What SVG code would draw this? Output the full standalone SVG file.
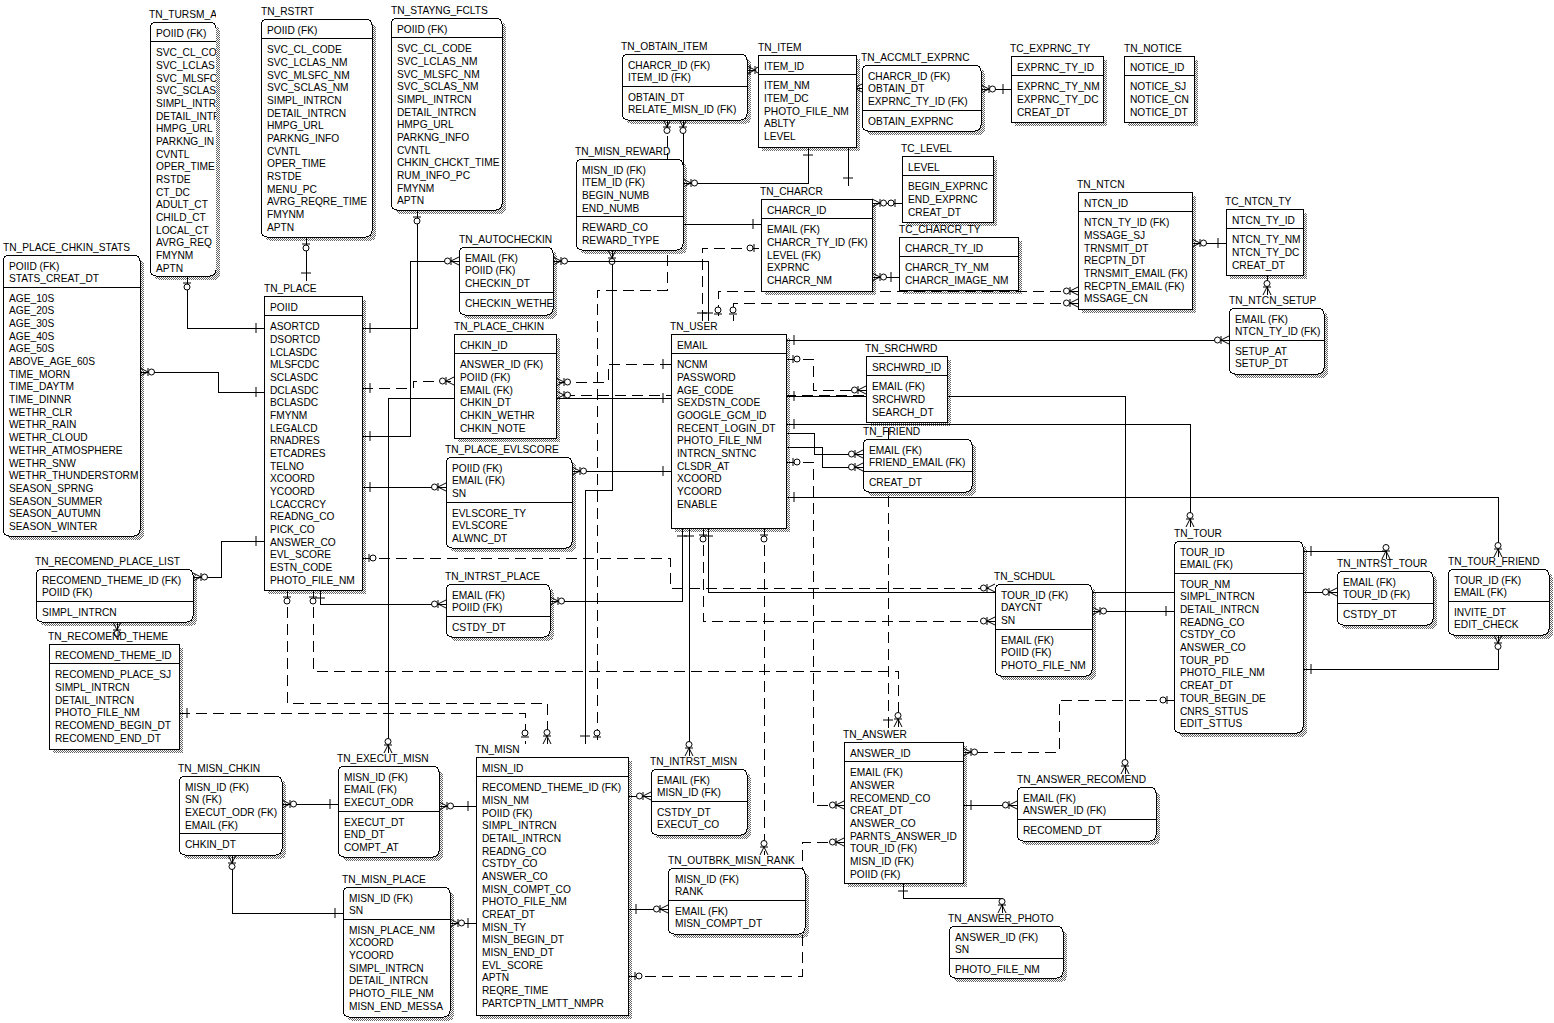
<svg xmlns="http://www.w3.org/2000/svg" width="1554" height="1023" viewBox="0 0 1554 1023">
<style>
.t{font-family:"Liberation Sans",Arial,sans-serif;font-size:10.2px;fill:#000}
.b{fill:#fff;stroke:#000;stroke-width:1;shape-rendering:crispEdges}
.dv{stroke:#000;stroke-width:1;fill:none;shape-rendering:crispEdges}
.sh{fill:url(#dots);shape-rendering:crispEdges}
.c{fill:none;stroke:#000;stroke-width:1;shape-rendering:crispEdges}
.cd{fill:none;stroke:#000;stroke-width:1;stroke-dasharray:11 6;shape-rendering:crispEdges}
</style>
<defs>
<pattern id="dots" width="2" height="2" patternUnits="userSpaceOnUse"><rect width="1" height="1" fill="#666"/><rect x="1" y="1" width="1" height="1" fill="#666"/></pattern>
<g id="mm"><path d="M0,-4L8,0L0,4M8,-4V4" fill="none" stroke="#000"/><circle cx="11.5" cy="0" r="3" fill="#fff" stroke="#000"/></g>
<g id="m1"><path d="M8,-5V5" fill="none" stroke="#000"/></g>
<g id="m01"><path d="M7,-4V4" fill="none" stroke="#000"/><circle cx="11" cy="0" r="3" fill="#fff" stroke="#000"/></g>
<clipPath id="clT"><rect x="140" y="0" width="76" height="290"/></clipPath>
</defs>
<rect width="1554" height="1023" fill="#fff"/>
<g id="shadows">
<rect class="sh" x="154" y="26" width="66" height="254" rx="6"/>
<rect class="sh" x="265" y="23" width="111" height="218" rx="6"/>
<rect class="sh" x="395" y="22" width="111" height="192" rx="6"/>
<rect class="sh" x="7" y="259" width="137" height="281" rx="6"/>
<rect class="sh" x="268" y="300" width="98" height="294"/>
<rect class="sh" x="626" y="58" width="125" height="66" rx="6"/>
<rect class="sh" x="762" y="59" width="98" height="92"/>
<rect class="sh" x="866" y="69" width="119" height="66" rx="6"/>
<rect class="sh" x="1015" y="60" width="92" height="66"/>
<rect class="sh" x="1128" y="60" width="70" height="66"/>
<rect class="sh" x="580" y="163" width="107" height="91" rx="6"/>
<rect class="sh" x="765" y="203" width="111" height="92"/>
<rect class="sh" x="906" y="160" width="91" height="66"/>
<rect class="sh" x="903" y="241" width="119" height="53"/>
<rect class="sh" x="1082" y="196" width="114" height="117"/>
<rect class="sh" x="1230" y="213" width="77" height="66"/>
<rect class="sh" x="1233" y="312" width="95" height="66" rx="6"/>
<rect class="sh" x="463" y="251" width="94" height="68" rx="6"/>
<rect class="sh" x="458" y="338" width="102" height="104"/>
<rect class="sh" x="675" y="338" width="115" height="194"/>
<rect class="sh" x="870" y="360" width="81" height="66"/>
<rect class="sh" x="867" y="443" width="109" height="53" rx="6"/>
<rect class="sh" x="450" y="461" width="126" height="91" rx="6"/>
<rect class="sh" x="450" y="588" width="104" height="53" rx="6"/>
<rect class="sh" x="40" y="573" width="157" height="53" rx="6"/>
<rect class="sh" x="53" y="648" width="130" height="105"/>
<rect class="sh" x="999" y="588" width="97" height="92" rx="6"/>
<rect class="sh" x="1178" y="545" width="129" height="192" rx="6"/>
<rect class="sh" x="1341" y="575" width="96" height="54" rx="6"/>
<rect class="sh" x="1452" y="573" width="101" height="66" rx="6"/>
<rect class="sh" x="183" y="780" width="103" height="79" rx="6"/>
<rect class="sh" x="342" y="770" width="101" height="91" rx="6"/>
<rect class="sh" x="347" y="891" width="107" height="130" rx="6"/>
<rect class="sh" x="480" y="761" width="152" height="258"/>
<rect class="sh" x="655" y="773" width="96" height="66" rx="6"/>
<rect class="sh" x="672" y="872" width="137" height="66" rx="6"/>
<rect class="sh" x="848" y="746" width="119" height="141"/>
<rect class="sh" x="1021" y="791" width="139" height="54" rx="6"/>
<rect class="sh" x="953" y="930" width="114" height="52" rx="6"/>
</g>
<g id="connectors">
<path class="c" d="M187,276V328H264"/><use href="#m01" transform="translate(187,276) rotate(90)"/><use href="#m1" transform="translate(264,328) rotate(180)"/>
<path class="c" d="M306,237V281"/><use href="#m01" transform="translate(306,237) rotate(90)"/><use href="#m1" transform="translate(306,281) rotate(-90)"/>
<path class="c" d="M417,210V328H362"/><use href="#m01" transform="translate(417,210) rotate(90)"/><use href="#m1" transform="translate(362,328)"/>
<path class="c" d="M140,372H218V392H264"/><use href="#mm" transform="translate(140,372)"/><use href="#m1" transform="translate(264,392) rotate(180)"/>
<path class="c" d="M193,577H221V541H264"/><use href="#mm" transform="translate(193,577)"/><use href="#m1" transform="translate(264,541) rotate(180)"/>
<path class="c" d="M117,622V631"/><use href="#mm" transform="translate(117,622) rotate(90)"/>
<path class="cd" d="M362,388H413V381H454"/><use href="#m1" transform="translate(362,388)"/><use href="#mm" transform="translate(454,381) rotate(180)"/>
<path class="c" d="M362,436H410V261H459"/><use href="#m1" transform="translate(362,436)"/><use href="#mm" transform="translate(459,261) rotate(180)"/>
<path class="c" d="M362,487H446"/><use href="#m1" transform="translate(362,487)"/><use href="#mm" transform="translate(446,487) rotate(180)"/>
<path class="c" d="M320,590V604H446"/><use href="#m1" transform="translate(320,590) rotate(90)"/><use href="#mm" transform="translate(446,604) rotate(180)"/>
<path class="cd" d="M362,558H670V588H995"/><use href="#m01" transform="translate(362,558)"/><use href="#mm" transform="translate(995,588) rotate(180)"/>
<path class="cd" d="M287,590V703H547V744"/><use href="#m01" transform="translate(287,590) rotate(90)"/><use href="#mm" transform="translate(547,744) rotate(-90)"/>
<path class="cd" d="M313,590V671H898V727"/><use href="#m01" transform="translate(313,590) rotate(90)"/><use href="#mm" transform="translate(898,727) rotate(-90)"/>
<path class="cd" d="M179,713H525V744"/><use href="#m1" transform="translate(179,713)"/><use href="#m01" transform="translate(525,744) rotate(-90)"/>
<path class="c" d="M612,250V490H585V744"/><use href="#mm" transform="translate(612,250) rotate(90)"/><use href="#m1" transform="translate(585,744) rotate(-90)"/>
<path class="cd" d="M667,119V290H597V744"/><use href="#mm" transform="translate(667,119) rotate(90)"/><use href="#m01" transform="translate(597,744) rotate(-90)"/>
<path class="c" d="M761,224H683V119"/><use href="#mm" transform="translate(683,119) rotate(90)"/><use href="#m1" transform="translate(761,224) rotate(180)"/>
<path class="c" d="M758,70H747"/><use href="#mm" transform="translate(747,70)"/><use href="#m1" transform="translate(758,70) rotate(180)"/>
<path class="c" d="M808,147V183H683"/><use href="#m1" transform="translate(808,147) rotate(90)"/><use href="#mm" transform="translate(683,183)"/>
<path class="c" d="M848,186V88H862"/><use href="#m1" transform="translate(848,186) rotate(-90)"/><use href="#mm" transform="translate(862,88) rotate(180)"/>
<path class="c" d="M981,89H1011"/><use href="#mm" transform="translate(981,89)"/><use href="#m1" transform="translate(1011,89) rotate(180)"/>
<path class="c" d="M872,203H902"/><use href="#mm" transform="translate(872,203)"/><use href="#m01" transform="translate(902,203) rotate(180)"/>
<path class="c" d="M872,277H899"/><use href="#mm" transform="translate(872,277)"/><use href="#m1" transform="translate(899,277) rotate(180)"/>
<path class="c" d="M1192,243H1226"/><use href="#mm" transform="translate(1192,243)"/><use href="#m1" transform="translate(1226,243) rotate(180)"/>
<path class="c" d="M1267,274V295"/><use href="#mm" transform="translate(1267,295) rotate(-90)"/>
<path class="c" d="M786,340H1229"/><use href="#m1" transform="translate(786,340)"/><use href="#mm" transform="translate(1229,340) rotate(180)"/>
<path class="cd" d="M1078,291H718V321"/><use href="#mm" transform="translate(1078,291) rotate(180)"/><use href="#m01" transform="translate(718,321) rotate(-90)"/>
<path class="cd" d="M1078,303H733V321"/><use href="#mm" transform="translate(1078,303) rotate(180)"/><use href="#m01" transform="translate(733,321) rotate(-90)"/>
<path class="cd" d="M702,321V248H761"/><use href="#m1" transform="translate(702,321) rotate(-90)"/><use href="#m01" transform="translate(761,248) rotate(180)"/>
<path class="c" d="M553,261H708V321"/><use href="#mm" transform="translate(553,261)"/><use href="#m1" transform="translate(708,321) rotate(-90)"/>
<path class="cd" d="M671,364H608V382H556"/><use href="#m1" transform="translate(671,364) rotate(180)"/><use href="#mm" transform="translate(556,382)"/>
<path class="c" d="M671,398H388V753"/><use href="#m1" transform="translate(671,398) rotate(180)"/><use href="#mm" transform="translate(388,753) rotate(-90)"/>
<path class="c" d="M671,471H572"/><use href="#m1" transform="translate(671,471) rotate(180)"/><use href="#mm" transform="translate(572,471)"/>
<path class="c" d="M682,528V601H550"/><use href="#m1" transform="translate(682,528) rotate(90)"/><use href="#mm" transform="translate(550,601)"/>
<path class="c" d="M689,528V756"/><use href="#m1" transform="translate(689,528) rotate(90)"/><use href="#mm" transform="translate(689,756) rotate(-90)"/>
<path class="cd" d="M703,528V621H995"/><use href="#m01" transform="translate(703,528) rotate(90)"/><use href="#mm" transform="translate(995,621) rotate(180)"/>
<path class="c" d="M708,528V592H1337"/><use href="#m1" transform="translate(708,528) rotate(90)"/><use href="#mm" transform="translate(1337,592) rotate(180)"/>
<path class="cd" d="M764,528V855"/><use href="#m01" transform="translate(764,528) rotate(90)"/><use href="#mm" transform="translate(764,855) rotate(-90)"/>
<path class="cd" d="M786,359H813V390H866"/><use href="#m01" transform="translate(786,359)"/><use href="#mm" transform="translate(866,390) rotate(180)"/>
<path class="c" d="M786,396H1125V774"/><use href="#m1" transform="translate(786,396)"/><use href="#mm" transform="translate(1125,774) rotate(-90)"/>
<path class="c" d="M786,424H1190V527"/><use href="#m1" transform="translate(786,424)"/><use href="#mm" transform="translate(1190,527) rotate(-90)"/>
<path class="c" d="M786,433H814V454H863"/><use href="#mm" transform="translate(863,454) rotate(180)"/>
<path class="c" d="M786,447H822V467H863"/><use href="#mm" transform="translate(863,467) rotate(180)"/>
<path class="cd" d="M786,462H813V805H844"/><use href="#m01" transform="translate(786,462)"/><use href="#mm" transform="translate(844,805) rotate(180)"/>
<path class="c" d="M786,497H1498V557"/><use href="#m1" transform="translate(786,497)"/><use href="#mm" transform="translate(1498,557) rotate(-90)"/>
<path class="c" d="M1174,611H1092"/><use href="#m1" transform="translate(1174,611) rotate(180)"/><use href="#mm" transform="translate(1092,611)"/>
<path class="c" d="M1303,551H1386V559"/><use href="#m1" transform="translate(1303,551)"/><use href="#mm" transform="translate(1386,559) rotate(-90)"/>
<path class="c" d="M1303,669H1498V635"/><use href="#m1" transform="translate(1303,669)"/><use href="#mm" transform="translate(1498,635) rotate(90)"/>
<path class="cd" d="M1174,700H1059V752H963"/><use href="#m01" transform="translate(1174,700) rotate(180)"/><use href="#mm" transform="translate(963,752)"/>
<path class="c" d="M476,806H439"/><use href="#m1" transform="translate(476,806) rotate(180)"/><use href="#mm" transform="translate(439,806)"/>
<path class="c" d="M338,804H282"/><use href="#m1" transform="translate(338,804) rotate(180)"/><use href="#mm" transform="translate(282,804)"/>
<path class="c" d="M232,855V913H343"/><use href="#mm" transform="translate(232,855) rotate(90)"/><use href="#m1" transform="translate(343,913) rotate(180)"/>
<path class="c" d="M476,923H450"/><use href="#m1" transform="translate(476,923) rotate(180)"/><use href="#mm" transform="translate(450,923)"/>
<path class="c" d="M628,796H651"/><use href="#mm" transform="translate(651,796) rotate(180)"/>
<path class="c" d="M628,909H668"/><use href="#m1" transform="translate(628,909)"/><use href="#mm" transform="translate(668,909) rotate(180)"/>
<path class="cd" d="M628,976H802V842H844"/><use href="#m01" transform="translate(628,976)"/><use href="#mm" transform="translate(844,842) rotate(180)"/>
<path class="c" d="M963,805H1017"/><use href="#m1" transform="translate(963,805)"/><use href="#mm" transform="translate(1017,805) rotate(180)"/>
<path class="c" d="M903,883V898H1002V913"/><use href="#m1" transform="translate(903,883) rotate(90)"/><use href="#mm" transform="translate(1002,913) rotate(-90)"/>
<path class="cd" d="M888,728V395H556"/><use href="#m1" transform="translate(888,728) rotate(-90)"/><use href="#mm" transform="translate(556,395)"/>
</g>
<g id="n-tn_tursm_at" clip-path="url(#clT)">
<text class="t" x="149" y="18">TN_TURSM_AT</text>
<rect class="b" x="150" y="22" width="66" height="254" rx="6"/>
<path class="dv" d="M150,41.5H216"/>
<text class="t" x="156" y="36.5">POIID (FK)</text>
<text class="t"><tspan x="156" y="56.2">SVC_CL_CO</tspan><tspan x="156" dy="12.67">SVC_LCLAS</tspan><tspan x="156" dy="12.67">SVC_MLSFC</tspan><tspan x="156" dy="12.67">SVC_SCLAS</tspan><tspan x="156" dy="12.67">SIMPL_INTR</tspan><tspan x="156" dy="12.67">DETAIL_INTR</tspan><tspan x="156" dy="12.67">HMPG_URL</tspan><tspan x="156" dy="12.67">PARKNG_IN</tspan><tspan x="156" dy="12.67">CVNTL</tspan><tspan x="156" dy="12.67">OPER_TIME</tspan><tspan x="156" dy="12.67">RSTDE</tspan><tspan x="156" dy="12.67">CT_DC</tspan><tspan x="156" dy="12.67">ADULT_CT</tspan><tspan x="156" dy="12.67">CHILD_CT</tspan><tspan x="156" dy="12.67">LOCAL_CT</tspan><tspan x="156" dy="12.67">AVRG_REQ</tspan><tspan x="156" dy="12.67">FMYNM</tspan><tspan x="156" dy="12.67">APTN</tspan></text>
</g>
<g id="n-tn_rstrt">
<text class="t" x="261" y="15">TN_RSTRT</text>
<rect class="b" x="261" y="19" width="111" height="218" rx="6"/>
<path class="dv" d="M261,38.5H372"/>
<text class="t" x="267" y="33.5">POIID (FK)</text>
<text class="t"><tspan x="267" y="53.2">SVC_CL_CODE</tspan><tspan x="267" dy="12.67">SVC_LCLAS_NM</tspan><tspan x="267" dy="12.67">SVC_MLSFC_NM</tspan><tspan x="267" dy="12.67">SVC_SCLAS_NM</tspan><tspan x="267" dy="12.67">SIMPL_INTRCN</tspan><tspan x="267" dy="12.67">DETAIL_INTRCN</tspan><tspan x="267" dy="12.67">HMPG_URL</tspan><tspan x="267" dy="12.67">PARKNG_INFO</tspan><tspan x="267" dy="12.67">CVNTL</tspan><tspan x="267" dy="12.67">OPER_TIME</tspan><tspan x="267" dy="12.67">RSTDE</tspan><tspan x="267" dy="12.67">MENU_PC</tspan><tspan x="267" dy="12.67">AVRG_REQRE_TIME</tspan><tspan x="267" dy="12.67">FMYNM</tspan><tspan x="267" dy="12.67">APTN</tspan></text>
</g>
<g id="n-tn_stayng_fclts">
<text class="t" x="391" y="14">TN_STAYNG_FCLTS</text>
<rect class="b" x="391" y="18" width="111" height="192" rx="6"/>
<path class="dv" d="M391,37.5H502"/>
<text class="t" x="397" y="32.5">POIID (FK)</text>
<text class="t"><tspan x="397" y="52.2">SVC_CL_CODE</tspan><tspan x="397" dy="12.67">SVC_LCLAS_NM</tspan><tspan x="397" dy="12.67">SVC_MLSFC_NM</tspan><tspan x="397" dy="12.67">SVC_SCLAS_NM</tspan><tspan x="397" dy="12.67">SIMPL_INTRCN</tspan><tspan x="397" dy="12.67">DETAIL_INTRCN</tspan><tspan x="397" dy="12.67">HMPG_URL</tspan><tspan x="397" dy="12.67">PARKNG_INFO</tspan><tspan x="397" dy="12.67">CVNTL</tspan><tspan x="397" dy="12.67">CHKIN_CHCKT_TIME</tspan><tspan x="397" dy="12.67">RUM_INFO_PC</tspan><tspan x="397" dy="12.67">FMYNM</tspan><tspan x="397" dy="12.67">APTN</tspan></text>
</g>
<g id="n-tn_place_chkin_stats">
<text class="t" x="3" y="251">TN_PLACE_CHKIN_STATS</text>
<rect class="b" x="3" y="255" width="137" height="281" rx="6"/>
<path class="dv" d="M3,287.5H140"/>
<text class="t"><tspan x="9" y="269.5">POIID (FK)</tspan><tspan x="9" dy="12.67">STATS_CREAT_DT</tspan></text>
<text class="t"><tspan x="9" y="301.8">AGE_10S</tspan><tspan x="9" dy="12.67">AGE_20S</tspan><tspan x="9" dy="12.67">AGE_30S</tspan><tspan x="9" dy="12.67">AGE_40S</tspan><tspan x="9" dy="12.67">AGE_50S</tspan><tspan x="9" dy="12.67">ABOVE_AGE_60S</tspan><tspan x="9" dy="12.67">TIME_MORN</tspan><tspan x="9" dy="12.67">TIME_DAYTM</tspan><tspan x="9" dy="12.67">TIME_DINNR</tspan><tspan x="9" dy="12.67">WETHR_CLR</tspan><tspan x="9" dy="12.67">WETHR_RAIN</tspan><tspan x="9" dy="12.67">WETHR_CLOUD</tspan><tspan x="9" dy="12.67">WETHR_ATMOSPHERE</tspan><tspan x="9" dy="12.67">WETHR_SNW</tspan><tspan x="9" dy="12.67">WETHR_THUNDERSTORM</tspan><tspan x="9" dy="12.67">SEASON_SPRNG</tspan><tspan x="9" dy="12.67">SEASON_SUMMER</tspan><tspan x="9" dy="12.67">SEASON_AUTUMN</tspan><tspan x="9" dy="12.67">SEASON_WINTER</tspan></text>
</g>
<g id="n-tn_place">
<text class="t" x="264" y="292">TN_PLACE</text>
<rect class="b" x="264" y="296" width="98" height="294"/>
<path class="dv" d="M264,315.5H362"/>
<text class="t" x="270" y="310.5">POIID</text>
<text class="t"><tspan x="270" y="330.2">ASORTCD</tspan><tspan x="270" dy="12.67">DSORTCD</tspan><tspan x="270" dy="12.67">LCLASDC</tspan><tspan x="270" dy="12.67">MLSFCDC</tspan><tspan x="270" dy="12.67">SCLASDC</tspan><tspan x="270" dy="12.67">DCLASDC</tspan><tspan x="270" dy="12.67">BCLASDC</tspan><tspan x="270" dy="12.67">FMYNM</tspan><tspan x="270" dy="12.67">LEGALCD</tspan><tspan x="270" dy="12.67">RNADRES</tspan><tspan x="270" dy="12.67">ETCADRES</tspan><tspan x="270" dy="12.67">TELNO</tspan><tspan x="270" dy="12.67">XCOORD</tspan><tspan x="270" dy="12.67">YCOORD</tspan><tspan x="270" dy="12.67">LCACCRCY</tspan><tspan x="270" dy="12.67">READNG_CO</tspan><tspan x="270" dy="12.67">PICK_CO</tspan><tspan x="270" dy="12.67">ANSWER_CO</tspan><tspan x="270" dy="12.67">EVL_SCORE</tspan><tspan x="270" dy="12.67">ESTN_CODE</tspan><tspan x="270" dy="12.67">PHOTO_FILE_NM</tspan></text>
</g>
<g id="n-tn_obtain_item">
<text class="t" x="621" y="50">TN_OBTAIN_ITEM</text>
<rect class="b" x="622" y="54" width="125" height="66" rx="6"/>
<path class="dv" d="M622,86.5H747"/>
<text class="t"><tspan x="628" y="68.5">CHARCR_ID (FK)</tspan><tspan x="628" dy="12.67">ITEM_ID (FK)</tspan></text>
<text class="t"><tspan x="628" y="100.8">OBTAIN_DT</tspan><tspan x="628" dy="12.67">RELATE_MISN_ID (FK)</tspan></text>
</g>
<g id="n-tn_item">
<text class="t" x="758" y="51">TN_ITEM</text>
<rect class="b" x="758" y="55" width="98" height="92"/>
<path class="dv" d="M758,74.5H856"/>
<text class="t" x="764" y="69.5">ITEM_ID</text>
<text class="t"><tspan x="764" y="89.2">ITEM_NM</tspan><tspan x="764" dy="12.67">ITEM_DC</tspan><tspan x="764" dy="12.67">PHOTO_FILE_NM</tspan><tspan x="764" dy="12.67">ABLTY</tspan><tspan x="764" dy="12.67">LEVEL</tspan></text>
</g>
<g id="n-tn_accmlt_exprnc">
<text class="t" x="861" y="61">TN_ACCMLT_EXPRNC</text>
<rect class="b" x="862" y="65" width="119" height="66" rx="6"/>
<path class="dv" d="M862,110.5H981"/>
<text class="t"><tspan x="868" y="79.5">CHARCR_ID (FK)</tspan><tspan x="868" dy="12.67">OBTAIN_DT</tspan><tspan x="868" dy="12.67">EXPRNC_TY_ID (FK)</tspan></text>
<text class="t" x="868" y="124.8">OBTAIN_EXPRNC</text>
</g>
<g id="n-tc_exprnc_ty">
<text class="t" x="1010" y="52">TC_EXPRNC_TY</text>
<rect class="b" x="1011" y="56" width="92" height="66"/>
<path class="dv" d="M1011,75.5H1103"/>
<text class="t" x="1017" y="70.5">EXPRNC_TY_ID</text>
<text class="t"><tspan x="1017" y="90.2">EXPRNC_TY_NM</tspan><tspan x="1017" dy="12.67">EXPRNC_TY_DC</tspan><tspan x="1017" dy="12.67">CREAT_DT</tspan></text>
</g>
<g id="n-tn_notice">
<text class="t" x="1124" y="52">TN_NOTICE</text>
<rect class="b" x="1124" y="56" width="70" height="66"/>
<path class="dv" d="M1124,75.5H1194"/>
<text class="t" x="1130" y="70.5">NOTICE_ID</text>
<text class="t"><tspan x="1130" y="90.2">NOTICE_SJ</tspan><tspan x="1130" dy="12.67">NOTICE_CN</tspan><tspan x="1130" dy="12.67">NOTICE_DT</tspan></text>
</g>
<g id="n-tn_misn_reward">
<text class="t" x="575" y="155">TN_MISN_REWARD</text>
<rect class="b" x="576" y="159" width="107" height="91" rx="6"/>
<path class="dv" d="M576,216.5H683"/>
<text class="t"><tspan x="582" y="173.5">MISN_ID (FK)</tspan><tspan x="582" dy="12.67">ITEM_ID (FK)</tspan><tspan x="582" dy="12.67">BEGIN_NUMB</tspan><tspan x="582" dy="12.67">END_NUMB</tspan></text>
<text class="t"><tspan x="582" y="231.2">REWARD_CO</tspan><tspan x="582" dy="12.67">REWARD_TYPE</tspan></text>
</g>
<g id="n-tn_charcr">
<text class="t" x="760" y="195">TN_CHARCR</text>
<rect class="b" x="761" y="199" width="111" height="92"/>
<path class="dv" d="M761,218.5H872"/>
<text class="t" x="767" y="213.5">CHARCR_ID</text>
<text class="t"><tspan x="767" y="233.2">EMAIL (FK)</tspan><tspan x="767" dy="12.67">CHARCR_TY_ID (FK)</tspan><tspan x="767" dy="12.67">LEVEL (FK)</tspan><tspan x="767" dy="12.67">EXPRNC</tspan><tspan x="767" dy="12.67">CHARCR_NM</tspan></text>
</g>
<g id="n-tc_level">
<text class="t" x="901" y="152">TC_LEVEL</text>
<rect class="b" x="902" y="156" width="91" height="66"/>
<path class="dv" d="M902,175.5H993"/>
<text class="t" x="908" y="170.5">LEVEL</text>
<text class="t"><tspan x="908" y="190.2">BEGIN_EXPRNC</tspan><tspan x="908" dy="12.67">END_EXPRNC</tspan><tspan x="908" dy="12.67">CREAT_DT</tspan></text>
</g>
<g id="n-tc_charcr_ty">
<text class="t" x="899" y="233">TC_CHARCR_TY</text>
<rect class="b" x="899" y="237" width="119" height="53"/>
<path class="dv" d="M899,256.5H1018"/>
<text class="t" x="905" y="251.5">CHARCR_TY_ID</text>
<text class="t"><tspan x="905" y="271.2">CHARCR_TY_NM</tspan><tspan x="905" dy="12.67">CHARCR_IMAGE_NM</tspan></text>
</g>
<g id="n-tn_ntcn">
<text class="t" x="1077" y="188">TN_NTCN</text>
<rect class="b" x="1078" y="192" width="114" height="117"/>
<path class="dv" d="M1078,211.5H1192"/>
<text class="t" x="1084" y="206.5">NTCN_ID</text>
<text class="t"><tspan x="1084" y="226.2">NTCN_TY_ID (FK)</tspan><tspan x="1084" dy="12.67">MSSAGE_SJ</tspan><tspan x="1084" dy="12.67">TRNSMIT_DT</tspan><tspan x="1084" dy="12.67">RECPTN_DT</tspan><tspan x="1084" dy="12.67">TRNSMIT_EMAIL (FK)</tspan><tspan x="1084" dy="12.67">RECPTN_EMAIL (FK)</tspan><tspan x="1084" dy="12.67">MSSAGE_CN</tspan></text>
</g>
<g id="n-tc_ntcn_ty">
<text class="t" x="1225" y="205">TC_NTCN_TY</text>
<rect class="b" x="1226" y="209" width="77" height="66"/>
<path class="dv" d="M1226,228.5H1303"/>
<text class="t" x="1232" y="223.5">NTCN_TY_ID</text>
<text class="t"><tspan x="1232" y="243.2">NTCN_TY_NM</tspan><tspan x="1232" dy="12.67">NTCN_TY_DC</tspan><tspan x="1232" dy="12.67">CREAT_DT</tspan></text>
</g>
<g id="n-tn_ntcn_setup">
<text class="t" x="1229" y="304">TN_NTCN_SETUP</text>
<rect class="b" x="1229" y="308" width="95" height="66" rx="6"/>
<path class="dv" d="M1229,340.5H1324"/>
<text class="t"><tspan x="1235" y="322.5">EMAIL (FK)</tspan><tspan x="1235" dy="12.67">NTCN_TY_ID (FK)</tspan></text>
<text class="t"><tspan x="1235" y="354.8">SETUP_AT</tspan><tspan x="1235" dy="12.67">SETUP_DT</tspan></text>
</g>
<g id="n-tn_autocheckin">
<text class="t" x="459" y="243">TN_AUTOCHECKIN</text>
<rect class="b" x="459" y="247" width="94" height="68" rx="6"/>
<path class="dv" d="M459,292.5H553"/>
<text class="t"><tspan x="465" y="261.5">EMAIL (FK)</tspan><tspan x="465" dy="12.67">POIID (FK)</tspan><tspan x="465" dy="12.67">CHECKIN_DT</tspan></text>
<text class="t" x="465" y="307">CHECKIN_WETHE</text>
</g>
<g id="n-tn_place_chkin">
<text class="t" x="454" y="330">TN_PLACE_CHKIN</text>
<rect class="b" x="454" y="334" width="102" height="104"/>
<path class="dv" d="M454,353.5H556"/>
<text class="t" x="460" y="348.5">CHKIN_ID</text>
<text class="t"><tspan x="460" y="368.2">ANSWER_ID (FK)</tspan><tspan x="460" dy="12.67">POIID (FK)</tspan><tspan x="460" dy="12.67">EMAIL (FK)</tspan><tspan x="460" dy="12.67">CHKIN_DT</tspan><tspan x="460" dy="12.67">CHKIN_WETHR</tspan><tspan x="460" dy="12.67">CHKIN_NOTE</tspan></text>
</g>
<g id="n-tn_user">
<text class="t" x="670" y="330">TN_USER</text>
<rect class="b" x="671" y="334" width="115" height="194"/>
<path class="dv" d="M671,353.5H786"/>
<text class="t" x="677" y="348.5">EMAIL</text>
<text class="t"><tspan x="677" y="368.2">NCNM</tspan><tspan x="677" dy="12.67">PASSWORD</tspan><tspan x="677" dy="12.67">AGE_CODE</tspan><tspan x="677" dy="12.67">SEXDSTN_CODE</tspan><tspan x="677" dy="12.67">GOOGLE_GCM_ID</tspan><tspan x="677" dy="12.67">RECENT_LOGIN_DT</tspan><tspan x="677" dy="12.67">PHOTO_FILE_NM</tspan><tspan x="677" dy="12.67">INTRCN_SNTNC</tspan><tspan x="677" dy="12.67">CLSDR_AT</tspan><tspan x="677" dy="12.67">XCOORD</tspan><tspan x="677" dy="12.67">YCOORD</tspan><tspan x="677" dy="12.67">ENABLE</tspan></text>
</g>
<g id="n-tn_srchwrd">
<text class="t" x="865" y="352">TN_SRCHWRD</text>
<rect class="b" x="866" y="356" width="81" height="66"/>
<path class="dv" d="M866,375.5H947"/>
<text class="t" x="872" y="370.5">SRCHWRD_ID</text>
<text class="t"><tspan x="872" y="390.2">EMAIL (FK)</tspan><tspan x="872" dy="12.67">SRCHWRD</tspan><tspan x="872" dy="12.67">SEARCH_DT</tspan></text>
</g>
<g id="n-tn_friend">
<text class="t" x="863" y="435">TN_FRIEND</text>
<rect class="b" x="863" y="439" width="109" height="53" rx="6"/>
<path class="dv" d="M863,471.5H972"/>
<text class="t"><tspan x="869" y="453.5">EMAIL (FK)</tspan><tspan x="869" dy="12.67">FRIEND_EMAIL (FK)</tspan></text>
<text class="t" x="869" y="485.8">CREAT_DT</text>
</g>
<g id="n-tn_place_evlscore">
<text class="t" x="445" y="453">TN_PLACE_EVLSCORE</text>
<rect class="b" x="446" y="457" width="126" height="91" rx="6"/>
<path class="dv" d="M446,502.5H572"/>
<text class="t"><tspan x="452" y="471.5">POIID (FK)</tspan><tspan x="452" dy="12.67">EMAIL (FK)</tspan><tspan x="452" dy="12.67">SN</tspan></text>
<text class="t"><tspan x="452" y="516.5">EVLSCORE_TY</tspan><tspan x="452" dy="12.67">EVLSCORE</tspan><tspan x="452" dy="12.67">ALWNC_DT</tspan></text>
</g>
<g id="n-tn_intrst_place">
<text class="t" x="445" y="580">TN_INTRST_PLACE</text>
<rect class="b" x="446" y="584" width="104" height="53" rx="6"/>
<path class="dv" d="M446,616.5H550"/>
<text class="t"><tspan x="452" y="598.5">EMAIL (FK)</tspan><tspan x="452" dy="12.67">POIID (FK)</tspan></text>
<text class="t" x="452" y="630.8">CSTDY_DT</text>
</g>
<g id="n-tn_recomend_place_list">
<text class="t" x="35" y="565">TN_RECOMEND_PLACE_LIST</text>
<rect class="b" x="36" y="569" width="157" height="53" rx="6"/>
<path class="dv" d="M36,601.5H193"/>
<text class="t"><tspan x="42" y="583.5">RECOMEND_THEME_ID (FK)</tspan><tspan x="42" dy="12.67">POIID (FK)</tspan></text>
<text class="t" x="42" y="615.8">SIMPL_INTRCN</text>
</g>
<g id="n-tn_recomend_theme">
<text class="t" x="48" y="640">TN_RECOMEND_THEME</text>
<rect class="b" x="49" y="644" width="130" height="105"/>
<path class="dv" d="M49,663.5H179"/>
<text class="t" x="55" y="658.5">RECOMEND_THEME_ID</text>
<text class="t"><tspan x="55" y="678.2">RECOMEND_PLACE_SJ</tspan><tspan x="55" dy="12.67">SIMPL_INTRCN</tspan><tspan x="55" dy="12.67">DETAIL_INTRCN</tspan><tspan x="55" dy="12.67">PHOTO_FILE_NM</tspan><tspan x="55" dy="12.67">RECOMEND_BEGIN_DT</tspan><tspan x="55" dy="12.67">RECOMEND_END_DT</tspan></text>
</g>
<g id="n-tn_schdul">
<text class="t" x="994" y="580">TN_SCHDUL</text>
<rect class="b" x="995" y="584" width="97" height="92" rx="6"/>
<path class="dv" d="M995,629.5H1092"/>
<text class="t"><tspan x="1001" y="598.5">TOUR_ID (FK)</tspan><tspan x="1001" dy="12.67">DAYCNT</tspan><tspan x="1001" dy="12.67">SN</tspan></text>
<text class="t"><tspan x="1001" y="643.5">EMAIL (FK)</tspan><tspan x="1001" dy="12.67">POIID (FK)</tspan><tspan x="1001" dy="12.67">PHOTO_FILE_NM</tspan></text>
</g>
<g id="n-tn_tour">
<text class="t" x="1174" y="537">TN_TOUR</text>
<rect class="b" x="1174" y="541" width="129" height="192" rx="6"/>
<path class="dv" d="M1174,573.5H1303"/>
<text class="t"><tspan x="1180" y="555.5">TOUR_ID</tspan><tspan x="1180" dy="12.67">EMAIL (FK)</tspan></text>
<text class="t"><tspan x="1180" y="587.8">TOUR_NM</tspan><tspan x="1180" dy="12.67">SIMPL_INTRCN</tspan><tspan x="1180" dy="12.67">DETAIL_INTRCN</tspan><tspan x="1180" dy="12.67">READNG_CO</tspan><tspan x="1180" dy="12.67">CSTDY_CO</tspan><tspan x="1180" dy="12.67">ANSWER_CO</tspan><tspan x="1180" dy="12.67">TOUR_PD</tspan><tspan x="1180" dy="12.67">PHOTO_FILE_NM</tspan><tspan x="1180" dy="12.67">CREAT_DT</tspan><tspan x="1180" dy="12.67">TOUR_BEGIN_DE</tspan><tspan x="1180" dy="12.67">CNRS_STTUS</tspan><tspan x="1180" dy="12.67">EDIT_STTUS</tspan></text>
</g>
<g id="n-tn_intrst_tour">
<text class="t" x="1337" y="567">TN_INTRST_TOUR</text>
<rect class="b" x="1337" y="571" width="96" height="54" rx="6"/>
<path class="dv" d="M1337,603.5H1433"/>
<text class="t"><tspan x="1343" y="585.5">EMAIL (FK)</tspan><tspan x="1343" dy="12.67">TOUR_ID (FK)</tspan></text>
<text class="t" x="1343" y="617.8">CSTDY_DT</text>
</g>
<g id="n-tn_tour_friend">
<text class="t" x="1448" y="565">TN_TOUR_FRIEND</text>
<rect class="b" x="1448" y="569" width="101" height="66" rx="6"/>
<path class="dv" d="M1448,601.5H1549"/>
<text class="t"><tspan x="1454" y="583.5">TOUR_ID (FK)</tspan><tspan x="1454" dy="12.67">EMAIL (FK)</tspan></text>
<text class="t"><tspan x="1454" y="615.8">INVITE_DT</tspan><tspan x="1454" dy="12.67">EDIT_CHECK</tspan></text>
</g>
<g id="n-tn_misn_chkin">
<text class="t" x="178" y="772">TN_MISN_CHKIN</text>
<rect class="b" x="179" y="776" width="103" height="79" rx="6"/>
<path class="dv" d="M179,833.5H282"/>
<text class="t"><tspan x="185" y="790.5">MISN_ID (FK)</tspan><tspan x="185" dy="12.67">SN (FK)</tspan><tspan x="185" dy="12.67">EXECUT_ODR (FK)</tspan><tspan x="185" dy="12.67">EMAIL (FK)</tspan></text>
<text class="t" x="185" y="848.2">CHKIN_DT</text>
</g>
<g id="n-tn_execut_misn">
<text class="t" x="337" y="762">TN_EXECUT_MISN</text>
<rect class="b" x="338" y="766" width="101" height="91" rx="6"/>
<path class="dv" d="M338,811.5H439"/>
<text class="t"><tspan x="344" y="780.5">MISN_ID (FK)</tspan><tspan x="344" dy="12.67">EMAIL (FK)</tspan><tspan x="344" dy="12.67">EXECUT_ODR</tspan></text>
<text class="t"><tspan x="344" y="825.5">EXECUT_DT</tspan><tspan x="344" dy="12.67">END_DT</tspan><tspan x="344" dy="12.67">COMPT_AT</tspan></text>
</g>
<g id="n-tn_misn_place">
<text class="t" x="342" y="883">TN_MISN_PLACE</text>
<rect class="b" x="343" y="887" width="107" height="130" rx="6"/>
<path class="dv" d="M343,919.5H450"/>
<text class="t"><tspan x="349" y="901.5">MISN_ID (FK)</tspan><tspan x="349" dy="12.67">SN</tspan></text>
<text class="t"><tspan x="349" y="933.8">MISN_PLACE_NM</tspan><tspan x="349" dy="12.67">XCOORD</tspan><tspan x="349" dy="12.67">YCOORD</tspan><tspan x="349" dy="12.67">SIMPL_INTRCN</tspan><tspan x="349" dy="12.67">DETAIL_INTRCN</tspan><tspan x="349" dy="12.67">PHOTO_FILE_NM</tspan><tspan x="349" dy="12.67">MISN_END_MESSA</tspan></text>
</g>
<g id="n-tn_misn">
<text class="t" x="475" y="753">TN_MISN</text>
<rect class="b" x="476" y="757" width="152" height="258"/>
<path class="dv" d="M476,776.5H628"/>
<text class="t" x="482" y="771.5">MISN_ID</text>
<text class="t"><tspan x="482" y="791.2">RECOMEND_THEME_ID (FK)</tspan><tspan x="482" dy="12.67">MISN_NM</tspan><tspan x="482" dy="12.67">POIID (FK)</tspan><tspan x="482" dy="12.67">SIMPL_INTRCN</tspan><tspan x="482" dy="12.67">DETAIL_INTRCN</tspan><tspan x="482" dy="12.67">READNG_CO</tspan><tspan x="482" dy="12.67">CSTDY_CO</tspan><tspan x="482" dy="12.67">ANSWER_CO</tspan><tspan x="482" dy="12.67">MISN_COMPT_CO</tspan><tspan x="482" dy="12.67">PHOTO_FILE_NM</tspan><tspan x="482" dy="12.67">CREAT_DT</tspan><tspan x="482" dy="12.67">MISN_TY</tspan><tspan x="482" dy="12.67">MISN_BEGIN_DT</tspan><tspan x="482" dy="12.67">MISN_END_DT</tspan><tspan x="482" dy="12.67">EVL_SCORE</tspan><tspan x="482" dy="12.67">APTN</tspan><tspan x="482" dy="12.67">REQRE_TIME</tspan><tspan x="482" dy="12.67">PARTCPTN_LMTT_NMPR</tspan></text>
</g>
<g id="n-tn_intrst_misn">
<text class="t" x="650" y="765">TN_INTRST_MISN</text>
<rect class="b" x="651" y="769" width="96" height="66" rx="6"/>
<path class="dv" d="M651,801.5H747"/>
<text class="t"><tspan x="657" y="783.5">EMAIL (FK)</tspan><tspan x="657" dy="12.67">MISN_ID (FK)</tspan></text>
<text class="t"><tspan x="657" y="815.8">CSTDY_DT</tspan><tspan x="657" dy="12.67">EXECUT_CO</tspan></text>
</g>
<g id="n-tn_outbrk_misn_rank">
<text class="t" x="668" y="864">TN_OUTBRK_MISN_RANK</text>
<rect class="b" x="668" y="868" width="137" height="66" rx="6"/>
<path class="dv" d="M668,900.5H805"/>
<text class="t"><tspan x="675" y="882.5">MISN_ID (FK)</tspan><tspan x="675" dy="12.67">RANK</tspan></text>
<text class="t"><tspan x="675" y="914.8">EMAIL (FK)</tspan><tspan x="675" dy="12.67">MISN_COMPT_DT</tspan></text>
</g>
<g id="n-tn_answer">
<text class="t" x="843" y="738">TN_ANSWER</text>
<rect class="b" x="844" y="742" width="119" height="141"/>
<path class="dv" d="M844,761.5H963"/>
<text class="t" x="850" y="756.5">ANSWER_ID</text>
<text class="t"><tspan x="850" y="776.2">EMAIL (FK)</tspan><tspan x="850" dy="12.67">ANSWER</tspan><tspan x="850" dy="12.67">RECOMEND_CO</tspan><tspan x="850" dy="12.67">CREAT_DT</tspan><tspan x="850" dy="12.67">ANSWER_CO</tspan><tspan x="850" dy="12.67">PARNTS_ANSWER_ID</tspan><tspan x="850" dy="12.67">TOUR_ID (FK)</tspan><tspan x="850" dy="12.67">MISN_ID (FK)</tspan><tspan x="850" dy="12.67">POIID (FK)</tspan></text>
</g>
<g id="n-tn_answer_recomend">
<text class="t" x="1017" y="783">TN_ANSWER_RECOMEND</text>
<rect class="b" x="1017" y="787" width="139" height="54" rx="6"/>
<path class="dv" d="M1017,819.5H1156"/>
<text class="t"><tspan x="1023" y="801.5">EMAIL (FK)</tspan><tspan x="1023" dy="12.67">ANSWER_ID (FK)</tspan></text>
<text class="t" x="1023" y="833.8">RECOMEND_DT</text>
</g>
<g id="n-tn_answer_photo">
<text class="t" x="948" y="922">TN_ANSWER_PHOTO</text>
<rect class="b" x="949" y="926" width="114" height="52" rx="6"/>
<path class="dv" d="M949,958.5H1063"/>
<text class="t"><tspan x="955" y="940.5">ANSWER_ID (FK)</tspan><tspan x="955" dy="12.67">SN</tspan></text>
<text class="t" x="955" y="972.8">PHOTO_FILE_NM</text>
</g>
</svg>
